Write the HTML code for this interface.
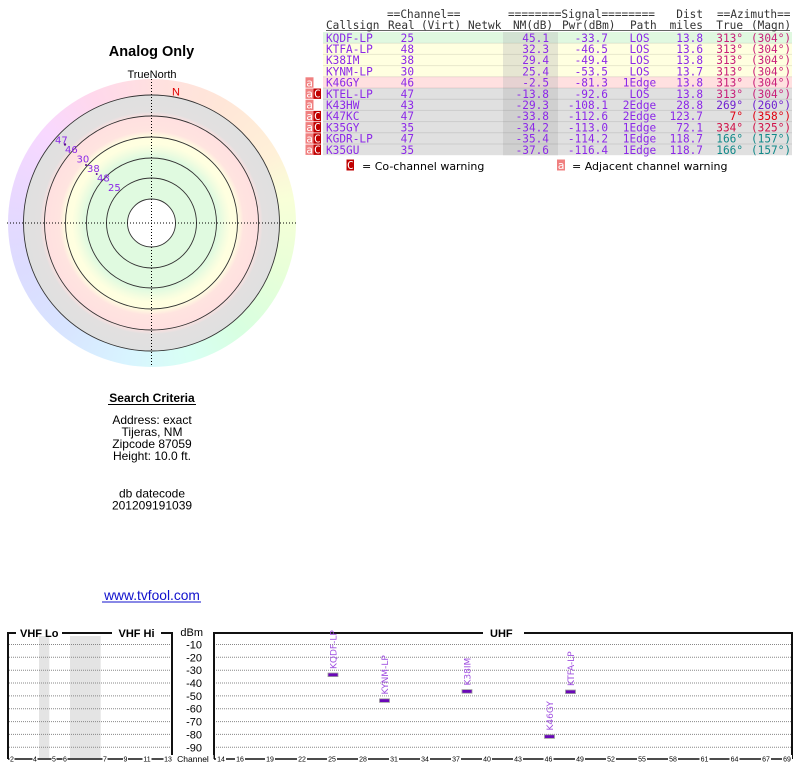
<!DOCTYPE html>
<html><head><meta charset="utf-8">
<style>
html,body{margin:0;padding:0;background:#fff;width:800px;height:768px;overflow:hidden;}
#ring{position:absolute;left:7.5px;top:79px;width:288px;height:288px;border-radius:50%;
background:conic-gradient(from 0deg,#ffe0e0 0deg,#ffe6d8 30deg,#fff0d8 60deg,#f8ffd8 80deg,#e8ffd8 110deg,#d8ffe0 140deg,#d8fff4 165deg,#d8f4ff 190deg,#d8e4ff 220deg,#dcdcff 250deg,#e8d8ff 280deg,#f8d8ff 310deg,#ffd8ec 335deg,#ffe0e0 360deg);}
svg{position:absolute;left:0;top:0;}
</style></head><body>
<div id="ring"></div>
<svg width="800" height="768" viewBox="0 0 800 768" xmlns="http://www.w3.org/2000/svg">
<defs>
<radialGradient id="rg" gradientUnits="userSpaceOnUse" cx="151.5" cy="223" r="128">
<stop offset="0" stop-color="#e0fae0"/>
<stop offset="0.52" stop-color="#e0fae0"/>
<stop offset="0.58" stop-color="#f4fde0"/>
<stop offset="0.62" stop-color="#ffffe0"/>
<stop offset="0.67" stop-color="#ffffe0"/>
<stop offset="0.72" stop-color="#ffe4e0"/>
<stop offset="0.83" stop-color="#ffe0e0"/>
<stop offset="0.87" stop-color="#e2e0e0"/>
<stop offset="1" stop-color="#e0e0e0"/>
</radialGradient>
</defs>

<!-- Polar chart -->
<text x="151.5" y="56" font-family="Liberation Sans, sans-serif" font-size="14.5" font-weight="bold" text-anchor="middle" fill="#000">Analog Only</text>
<text x="152" y="78" font-family="Liberation Sans, sans-serif" font-size="11" text-anchor="middle" fill="#000">TrueNorth</text>
<circle cx="151.5" cy="223" r="128" fill="url(#rg)"/>
<g fill="none" stroke="#333" stroke-width="0.9">
<circle cx="151.5" cy="223" r="128"/>
<circle cx="151.5" cy="223" r="107"/>
<circle cx="151.5" cy="223" r="86"/>
<circle cx="151.5" cy="223" r="65"/>
<circle cx="151.5" cy="223" r="45"/>
</g>
<circle cx="151.5" cy="223" r="24" fill="#fff" stroke="#333" stroke-width="0.9"/>
<g stroke="#000" stroke-width="1" stroke-dasharray="1,2">
<line x1="7" y1="223" x2="296" y2="223"/>
<line x1="151.5" y1="79" x2="151.5" y2="367"/>
</g>
<text x="172" y="95.5" font-family="Liberation Sans, sans-serif" font-size="11" fill="#e00000">N</text>
<g fill="#5a1090">
<circle cx="65" cy="144.5" r="1.2"/>
<circle cx="86" cy="165" r="1"/>
<circle cx="96.7" cy="174" r="1"/>
</g>
<g font-family="DejaVu Sans, sans-serif" font-size="10" fill="#8c28e8">
<text x="55" y="143.5">47</text>
<text x="65" y="153">46</text>
<text x="76.5" y="162.5">30</text>
<text x="87" y="172">38</text>
<text x="97" y="181.5">48</text>
<text x="108" y="191">25</text>
</g>

<!-- Search criteria -->
<g font-family="Liberation Sans, sans-serif" font-size="12" text-anchor="middle" fill="#000">
<text x="152" y="402" font-weight="bold">Search Criteria</text>
<line x1="108" y1="404.5" x2="196" y2="404.5" stroke="#000" stroke-width="1"/>
<text x="152" y="424">Address: exact</text>
<text x="152" y="436">Tijeras, NM</text>
<text x="152" y="448">Zipcode 87059</text>
<text x="152" y="460">Height: 10.0 ft.</text>
<text x="152" y="497.5">db datecode</text>
<text x="152" y="509.5">201209191039</text>
</g>
<text x="152" y="600" font-family="Liberation Sans, sans-serif" font-size="13.8" text-anchor="middle" fill="#1010cc">www.tvfool.com</text>
<line x1="102" y1="602" x2="201" y2="602" stroke="#1010cc" stroke-width="1"/>

<!-- Table backgrounds -->
<g>
<rect x="323" y="32" width="469" height="11.2" fill="#e0f8e0"/>
<rect x="503" y="32" width="55" height="11.2" fill="#d2e2d2"/>
<rect x="323" y="43.2" width="469" height="33.6" fill="#ffffe0"/>
<rect x="503" y="43.2" width="55" height="33.6" fill="#e6e6d2"/>
<rect x="323" y="76.8" width="469" height="11.2" fill="#ffe0e0"/>
<rect x="503" y="76.8" width="55" height="11.2" fill="#e6d2d2"/>
<rect x="323" y="88" width="469" height="67.2" fill="#e0e0e0"/>
<rect x="503" y="88" width="55" height="67.2" fill="#d0d0d0"/>
</g>
<g stroke="#000" stroke-opacity="0.09" stroke-width="1">
<line x1="323" y1="43.2" x2="792" y2="43.2"/>
<line x1="323" y1="54.4" x2="792" y2="54.4"/>
<line x1="323" y1="65.6" x2="792" y2="65.6"/>
<line x1="323" y1="76.8" x2="792" y2="76.8"/>
<line x1="323" y1="88" x2="792" y2="88"/>
<line x1="323" y1="99.2" x2="792" y2="99.2"/>
<line x1="323" y1="110.4" x2="792" y2="110.4"/>
<line x1="323" y1="121.6" x2="792" y2="121.6"/>
<line x1="323" y1="132.8" x2="792" y2="132.8"/>
<line x1="323" y1="144" x2="792" y2="144"/>
</g>

<!-- warning markers -->
<g font-family="DejaVu Sans Mono, monospace" font-size="11" fill="#fff" text-anchor="middle">
<rect x="305.5" y="77.3" width="8" height="10.4" fill="#f08080"/><text x="309.5" y="86.3">a</text>
<rect x="305.5" y="88.5" width="8" height="10.4" fill="#f08080"/><text x="309.5" y="97.5">a</text>
<rect x="313.5" y="88.5" width="7.5" height="10.4" fill="#c00000"/><text x="317.3" y="97.5">C</text>
<rect x="305.5" y="99.7" width="8" height="10.4" fill="#f08080"/><text x="309.5" y="108.7">a</text>
<rect x="305.5" y="110.9" width="8" height="10.4" fill="#f08080"/><text x="309.5" y="119.9">a</text>
<rect x="313.5" y="110.9" width="7.5" height="10.4" fill="#c00000"/><text x="317.3" y="119.9">C</text>
<rect x="305.5" y="122.1" width="8" height="10.4" fill="#f08080"/><text x="309.5" y="131.1">a</text>
<rect x="313.5" y="122.1" width="7.5" height="10.4" fill="#c00000"/><text x="317.3" y="131.1">C</text>
<rect x="305.5" y="133.3" width="8" height="10.4" fill="#f08080"/><text x="309.5" y="142.3">a</text>
<rect x="313.5" y="133.3" width="7.5" height="10.4" fill="#c00000"/><text x="317.3" y="142.3">C</text>
<rect x="305.5" y="144.5" width="8" height="10.4" fill="#f08080"/><text x="309.5" y="153.5">a</text>
<rect x="313.5" y="144.5" width="7.5" height="10.4" fill="#c00000"/><text x="317.3" y="153.5">C</text>
</g>

<!-- Table header -->
<g font-family="DejaVu Sans Mono, monospace" font-size="11.1" fill="#333">
<text x="387" y="18">==Channel==</text>
<text x="508" y="18">========Signal========</text>
<text x="703" y="18" text-anchor="end">Dist</text>
<text x="717" y="18">==Azimuth==</text>
<text x="326" y="29">Callsign</text>
<text x="388" y="29">Real</text>
<text x="421" y="29">(Virt)</text>
<text x="468" y="29">Netwk</text>
<text x="513" y="29">NM(dB)</text>
<text x="562" y="29">Pwr(dBm)</text>
<text x="630" y="29">Path</text>
<text x="703" y="29" text-anchor="end">miles</text>
<text x="743" y="29" text-anchor="end">True</text>
<text x="751" y="29">(Magn)</text>
</g>
<line x1="326" y1="30.5" x2="790" y2="30.5" stroke="#333" stroke-width="0.8"/>

<!-- Table rows -->
<g font-family="DejaVu Sans Mono, monospace" font-size="11.1" fill="#8c28e8">
<g>
<text x="326" y="41.8">KQDF-LP</text><text x="414" y="41.8" text-anchor="end">25</text>
<text x="549" y="41.8" text-anchor="end">45.1</text><text x="608" y="41.8" text-anchor="end">-33.7</text>
<text x="639.5" y="41.8" text-anchor="middle">LOS</text><text x="703" y="41.8" text-anchor="end">13.8</text>
</g>
<g>
<text x="326" y="53">KTFA-LP</text><text x="414" y="53" text-anchor="end">48</text>
<text x="549" y="53" text-anchor="end">32.3</text><text x="608" y="53" text-anchor="end">-46.5</text>
<text x="639.5" y="53" text-anchor="middle">LOS</text><text x="703" y="53" text-anchor="end">13.6</text>
</g>
<g>
<text x="326" y="64.2">K38IM</text><text x="414" y="64.2" text-anchor="end">38</text>
<text x="549" y="64.2" text-anchor="end">29.4</text><text x="608" y="64.2" text-anchor="end">-49.4</text>
<text x="639.5" y="64.2" text-anchor="middle">LOS</text><text x="703" y="64.2" text-anchor="end">13.8</text>
</g>
<g>
<text x="326" y="75.4">KYNM-LP</text><text x="414" y="75.4" text-anchor="end">30</text>
<text x="549" y="75.4" text-anchor="end">25.4</text><text x="608" y="75.4" text-anchor="end">-53.5</text>
<text x="639.5" y="75.4" text-anchor="middle">LOS</text><text x="703" y="75.4" text-anchor="end">13.7</text>
</g>
<g>
<text x="326" y="86.6">K46GY</text><text x="414" y="86.6" text-anchor="end">46</text>
<text x="549" y="86.6" text-anchor="end">-2.5</text><text x="608" y="86.6" text-anchor="end">-81.3</text>
<text x="639.5" y="86.6" text-anchor="middle">1Edge</text><text x="703" y="86.6" text-anchor="end">13.8</text>
</g>
<g>
<text x="326" y="97.8">KTEL-LP</text><text x="414" y="97.8" text-anchor="end">47</text>
<text x="549" y="97.8" text-anchor="end">-13.8</text><text x="608" y="97.8" text-anchor="end">-92.6</text>
<text x="639.5" y="97.8" text-anchor="middle">LOS</text><text x="703" y="97.8" text-anchor="end">13.8</text>
</g>
<g>
<text x="326" y="109">K43HW</text><text x="414" y="109" text-anchor="end">43</text>
<text x="549" y="109" text-anchor="end">-29.3</text><text x="608" y="109" text-anchor="end">-108.1</text>
<text x="639.5" y="109" text-anchor="middle">2Edge</text><text x="703" y="109" text-anchor="end">28.8</text>
</g>
<g>
<text x="326" y="120.2">K47KC</text><text x="414" y="120.2" text-anchor="end">47</text>
<text x="549" y="120.2" text-anchor="end">-33.8</text><text x="608" y="120.2" text-anchor="end">-112.6</text>
<text x="639.5" y="120.2" text-anchor="middle">2Edge</text><text x="703" y="120.2" text-anchor="end">123.7</text>
</g>
<g>
<text x="326" y="131.4">K35GY</text><text x="414" y="131.4" text-anchor="end">35</text>
<text x="549" y="131.4" text-anchor="end">-34.2</text><text x="608" y="131.4" text-anchor="end">-113.0</text>
<text x="639.5" y="131.4" text-anchor="middle">1Edge</text><text x="703" y="131.4" text-anchor="end">72.1</text>
</g>
<g>
<text x="326" y="142.6">KGDR-LP</text><text x="414" y="142.6" text-anchor="end">47</text>
<text x="549" y="142.6" text-anchor="end">-35.4</text><text x="608" y="142.6" text-anchor="end">-114.2</text>
<text x="639.5" y="142.6" text-anchor="middle">1Edge</text><text x="703" y="142.6" text-anchor="end">118.7</text>
</g>
<g>
<text x="326" y="153.8">K35GU</text><text x="414" y="153.8" text-anchor="end">35</text>
<text x="549" y="153.8" text-anchor="end">-37.6</text><text x="608" y="153.8" text-anchor="end">-116.4</text>
<text x="639.5" y="153.8" text-anchor="middle">1Edge</text><text x="703" y="153.8" text-anchor="end">118.7</text>
</g>
</g>
<!-- Azimuth columns -->
<g font-family="DejaVu Sans Mono, monospace" font-size="11.1">
<g fill="#c8207a">
<text x="743" y="41.8" text-anchor="end">313°</text><text x="751" y="41.8">(304°)</text>
<text x="743" y="53" text-anchor="end">313°</text><text x="751" y="53">(304°)</text>
<text x="743" y="64.2" text-anchor="end">313°</text><text x="751" y="64.2">(304°)</text>
<text x="743" y="75.4" text-anchor="end">313°</text><text x="751" y="75.4">(304°)</text>
<text x="743" y="86.6" text-anchor="end">313°</text><text x="751" y="86.6">(304°)</text>
<text x="743" y="97.8" text-anchor="end">313°</text><text x="751" y="97.8">(304°)</text>
</g>
<g fill="#7020d0"><text x="743" y="109" text-anchor="end">269°</text><text x="751" y="109">(260°)</text></g>
<g fill="#e00010"><text x="743" y="120.2" text-anchor="end">7°</text><text x="751" y="120.2">(358°)</text></g>
<g fill="#d01048"><text x="743" y="131.4" text-anchor="end">334°</text><text x="751" y="131.4">(325°)</text></g>
<g fill="#108888">
<text x="743" y="142.6" text-anchor="end">166°</text><text x="751" y="142.6">(157°)</text>
<text x="743" y="153.8" text-anchor="end">166°</text><text x="751" y="153.8">(157°)</text>
</g>
</g>

<!-- Legend -->
<rect x="346.5" y="159.5" width="7.5" height="11" fill="#c00000"/>
<text x="350.3" y="169" font-family="DejaVu Sans Mono, monospace" font-size="11" fill="#fff" text-anchor="middle">C</text>
<text x="362" y="170" font-family="DejaVu Sans, sans-serif" font-size="11" fill="#000">= Co-channel warning</text>
<rect x="557" y="159.5" width="8" height="11" fill="#f08080"/>
<text x="561" y="169" font-family="DejaVu Sans Mono, monospace" font-size="11" fill="#fff" text-anchor="middle">a</text>
<text x="572" y="170" font-family="DejaVu Sans, sans-serif" font-size="11" fill="#000">= Adjacent channel warning</text>

<!-- Bottom chart: VHF -->
<rect x="39" y="636" width="10.3" height="122" fill="#e4e4e4"/>
<rect x="70" y="636" width="30.7" height="122" fill="#e4e4e4"/>
<g stroke="#888" stroke-width="1" stroke-dasharray="1,1">
<line x1="9" y1="644.5" x2="171" y2="644.5"/>
<line x1="9" y1="657.3" x2="171" y2="657.3"/>
<line x1="9" y1="670.2" x2="171" y2="670.2"/>
<line x1="9" y1="683" x2="171" y2="683"/>
<line x1="9" y1="695.9" x2="171" y2="695.9"/>
<line x1="9" y1="708.7" x2="171" y2="708.7"/>
<line x1="9" y1="721.6" x2="171" y2="721.6"/>
<line x1="9" y1="734.4" x2="171" y2="734.4"/>
<line x1="9" y1="747.3" x2="171" y2="747.3"/>
<line x1="216" y1="644.5" x2="791" y2="644.5"/>
<line x1="216" y1="657.3" x2="791" y2="657.3"/>
<line x1="216" y1="670.2" x2="791" y2="670.2"/>
<line x1="216" y1="683" x2="791" y2="683"/>
<line x1="216" y1="695.9" x2="791" y2="695.9"/>
<line x1="216" y1="708.7" x2="791" y2="708.7"/>
<line x1="216" y1="721.6" x2="791" y2="721.6"/>
<line x1="216" y1="734.4" x2="791" y2="734.4"/>
<line x1="216" y1="747.3" x2="791" y2="747.3"/>
</g>
<g stroke="#111" stroke-width="2" fill="none">
<polyline points="16,633 8,633 8,759"/>
<line x1="62" y1="633" x2="112" y2="633"/>
<polyline points="161,633 172,633 172,759"/>
<polyline points="483,633 214,633 214,759"/>
<polyline points="524,633 792,633 792,759"/>
</g>
<line x1="8" y1="759" x2="172" y2="759" stroke="#111" stroke-width="1.5"/>
<line x1="214" y1="759" x2="792" y2="759" stroke="#111" stroke-width="1.5"/>
<g font-family="Liberation Sans, sans-serif" font-size="11" font-weight="bold" fill="#000">
<text x="20" y="637">VHF Lo</text>
<text x="118.5" y="637">VHF Hi</text>
<text x="490" y="637">UHF</text>
</g>
<g font-family="Liberation Sans, sans-serif" font-size="11" fill="#000" text-anchor="end">
<text x="203" y="636">dBm</text>
<text x="202" y="648.5">-10</text>
<text x="202" y="661.3">-20</text>
<text x="202" y="674.2">-30</text>
<text x="202" y="687">-40</text>
<text x="202" y="699.9">-50</text>
<text x="202" y="712.7">-60</text>
<text x="202" y="725.6">-70</text>
<text x="202" y="738.4">-80</text>
<text x="202" y="751.3">-90</text>
</g>
<!-- channel labels -->
<g font-family="Liberation Sans, sans-serif" font-size="7" fill="#000" text-anchor="middle">
<g fill="#fff">
<rect x="9.5" y="755" width="5" height="8"/><rect x="32.5" y="755" width="5" height="8"/>
<rect x="51.5" y="755" width="5" height="8"/><rect x="62.5" y="755" width="5" height="8"/>
<rect x="102.5" y="755" width="5" height="8"/><rect x="123" y="755" width="5" height="8"/>
<rect x="142.5" y="755" width="9" height="8"/><rect x="163.5" y="755" width="9" height="8"/>
<rect x="172.5" y="755" width="41" height="8"/>
<rect x="216" y="755" width="10" height="8"/><rect x="235" y="755" width="10" height="8"/>
<rect x="265" y="755" width="10" height="8"/><rect x="297" y="755" width="10" height="8"/>
<rect x="327" y="755" width="10" height="8"/><rect x="358" y="755" width="10" height="8"/>
<rect x="389" y="755" width="10" height="8"/><rect x="420" y="755" width="10" height="8"/>
<rect x="451" y="755" width="10" height="8"/><rect x="482" y="755" width="10" height="8"/>
<rect x="513" y="755" width="10" height="8"/><rect x="543.5" y="755" width="10" height="8"/>
<rect x="575" y="755" width="10" height="8"/><rect x="606" y="755" width="10" height="8"/>
<rect x="637" y="755" width="10" height="8"/><rect x="668" y="755" width="10" height="8"/>
<rect x="699.5" y="755" width="10" height="8"/><rect x="729.5" y="755" width="10" height="8"/>
<rect x="761" y="755" width="10" height="8"/><rect x="782" y="755" width="10" height="8"/>
</g>
<text x="12" y="761.5">2</text><text x="35" y="761.5">4</text><text x="54" y="761.5">5</text>
<text x="65" y="761.5">6</text><text x="105" y="761.5">7</text><text x="125.5" y="761.5">9</text>
<text x="147" y="761.5">11</text><text x="168" y="761.5">13</text>
<text x="193" y="762" font-size="8.5">Channel</text>
<text x="221" y="761.5">14</text><text x="240" y="761.5">16</text><text x="270" y="761.5">19</text>
<text x="302" y="761.5">22</text><text x="332" y="761.5">25</text><text x="363" y="761.5">28</text>
<text x="394" y="761.5">31</text><text x="425" y="761.5">34</text><text x="456" y="761.5">37</text>
<text x="487" y="761.5">40</text><text x="518" y="761.5">43</text><text x="548.5" y="761.5">46</text>
<text x="580" y="761.5">49</text><text x="611" y="761.5">52</text><text x="642" y="761.5">55</text>
<text x="673" y="761.5">58</text><text x="704.5" y="761.5">61</text><text x="734.5" y="761.5">64</text>
<text x="766" y="761.5">67</text><text x="787" y="761.5">69</text>
</g>

<!-- bars -->
<g fill="#6a08b8" stroke="#a0a0a0" stroke-width="0.8">
<rect x="328" y="673" width="10" height="3.6"/>
<rect x="379.5" y="698.8" width="10" height="3.6"/>
<rect x="462" y="689.6" width="10" height="3.6"/>
<rect x="544.5" y="734.8" width="10" height="3.6"/>
<rect x="565.5" y="690" width="10" height="3.6"/>
</g>
<g font-family="DejaVu Sans, sans-serif" font-size="9" fill="#a050e0">
<text transform="translate(336.5,669) rotate(-90)">KQDF-LP</text>
<text transform="translate(388,694.5) rotate(-90)">KYNM-LP</text>
<text transform="translate(470.5,685.5) rotate(-90)">K38IM</text>
<text transform="translate(553,730.5) rotate(-90)">K46GY</text>
<text transform="translate(574,686) rotate(-90)">KTFA-LP</text>
</g>
</svg>
</body></html>
